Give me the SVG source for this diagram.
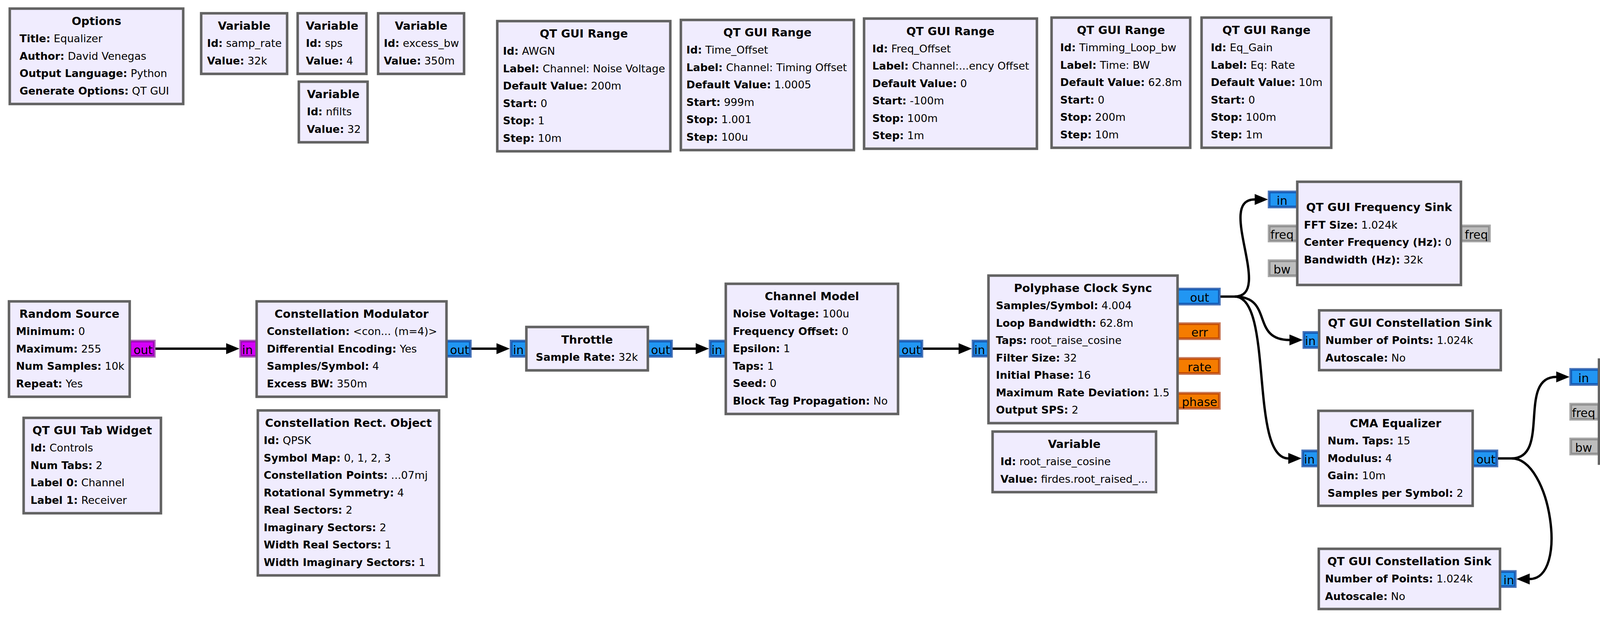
<svg xmlns="http://www.w3.org/2000/svg" width="4609" height="1581" viewBox="0 0 4609 1581">
<style>
text{font-family:"DejaVu Sans","Liberation Sans",sans-serif;fill:#000}
.blk{fill:#F0ECFE;stroke:#636363;stroke-width:6.5}
.t{font-size:29px;font-weight:bold;text-anchor:middle}
.p{font-size:27px}
.k{font-weight:bold}
.pt{font-size:30px;text-anchor:middle}
.pb{fill:#2196F3;stroke:#0D47A1;stroke-opacity:.75;stroke-width:7}
.po{fill:#F57C00;stroke:#AA3200;stroke-opacity:.65;stroke-width:7}
.pm{fill:#D500F9;stroke:#78008C;stroke-opacity:.6;stroke-width:7}
.pg{fill:#BDBDBD;stroke:#6E6E6E;stroke-opacity:.6;stroke-width:7}
.c{fill:none;stroke:#000;stroke-width:6;marker-end:url(#arr)}
</style>
<defs>
<marker id="arr" markerUnits="userSpaceOnUse" markerWidth="36" markerHeight="30" refX="0" refY="14" orient="auto" overflow="visible">
<path d="M0,0 L34,14 L0,28 Z" fill="#000"/>
</marker>
</defs>
<rect width="4609" height="1581" fill="#fff"/>

<g id="options">
<rect class="blk" x="25" y="22" width="444" height="244"/>
<text class="t" x="247" y="64">Options</text>
<text class="p" x="50" y="108"><tspan class="k">Title:</tspan> Equalizer</text>
<text class="p" x="50" y="152.5"><tspan class="k">Author:</tspan> David Venegas</text>
<text class="p" x="50" y="197"><tspan class="k">Output Language:</tspan> Python</text>
<text class="p" x="50" y="241.5"><tspan class="k">Generate Options:</tspan> QT GUI</text>
</g>

<g id="var_samp_rate">
<rect class="blk" x="515" y="34" width="220" height="155"/>
<text class="t" x="625" y="76">Variable</text>
<text class="p" x="530" y="120"><tspan class="k">Id:</tspan> samp_rate</text>
<text class="p" x="530" y="164.5"><tspan class="k">Value:</tspan> 32k</text>
</g>

<g id="var_sps">
<rect class="blk" x="762" y="34" width="176" height="155"/>
<text class="t" x="850" y="76">Variable</text>
<text class="p" x="783" y="120"><tspan class="k">Id:</tspan> sps</text>
<text class="p" x="783" y="164.5"><tspan class="k">Value:</tspan> 4</text>
</g>

<g id="var_excess_bw">
<rect class="blk" x="968" y="34" width="220" height="155"/>
<text class="t" x="1078" y="76">Variable</text>
<text class="p" x="982.5" y="120"><tspan class="k">Id:</tspan> excess_bw</text>
<text class="p" x="982.5" y="164.5"><tspan class="k">Value:</tspan> 350m</text>
</g>

<g id="var_nfilts">
<rect class="blk" x="765" y="209" width="176" height="155"/>
<text class="t" x="853" y="251">Variable</text>
<text class="p" x="785.5" y="295"><tspan class="k">Id:</tspan> nfilts</text>
<text class="p" x="785.5" y="339.5"><tspan class="k">Value:</tspan> 32</text>
</g>

<g id="range_awgn">
<rect class="blk" x="1273" y="54" width="443" height="333"/>
<text class="t" x="1494.5" y="96">QT GUI Range</text>
<text class="p" x="1287.5" y="140"><tspan class="k">Id:</tspan> AWGN</text>
<text class="p" x="1287.5" y="184.5"><tspan class="k">Label:</tspan> Channel: Noise Voltage</text>
<text class="p" x="1287.5" y="229"><tspan class="k">Default Value:</tspan> 200m</text>
<text class="p" x="1287.5" y="273.5"><tspan class="k">Start:</tspan> 0</text>
<text class="p" x="1287.5" y="318"><tspan class="k">Stop:</tspan> 1</text>
<text class="p" x="1287.5" y="362.5"><tspan class="k">Step:</tspan> 10m</text>
</g>

<g id="range_time_offset">
<rect class="blk" x="1743" y="51" width="443" height="333"/>
<text class="t" x="1964.5" y="93">QT GUI Range</text>
<text class="p" x="1757" y="137"><tspan class="k">Id:</tspan> Time_Offset</text>
<text class="p" x="1757" y="181.5"><tspan class="k">Label:</tspan> Channel: Timing Offset</text>
<text class="p" x="1757" y="226"><tspan class="k">Default Value:</tspan> 1.0005</text>
<text class="p" x="1757" y="270.5"><tspan class="k">Start:</tspan> 999m</text>
<text class="p" x="1757" y="315"><tspan class="k">Stop:</tspan> 1.001</text>
<text class="p" x="1757" y="359.5"><tspan class="k">Step:</tspan> 100u</text>
</g>

<g id="range_freq_offset">
<rect class="blk" x="2212" y="47.5" width="442.5" height="333"/>
<text class="t" x="2433" y="89.5">QT GUI Range</text>
<text class="p" x="2233" y="133.5"><tspan class="k">Id:</tspan> Freq_Offset</text>
<text class="p" x="2233" y="178"><tspan class="k">Label:</tspan> Channel:...ency Offset</text>
<text class="p" x="2233" y="222.5"><tspan class="k">Default Value:</tspan> 0</text>
<text class="p" x="2233" y="267"><tspan class="k">Start:</tspan> -100m</text>
<text class="p" x="2233" y="311.5"><tspan class="k">Stop:</tspan> 100m</text>
<text class="p" x="2233" y="356"><tspan class="k">Step:</tspan> 1m</text>
</g>

<g id="range_timming_loop_bw">
<rect class="blk" x="2692" y="45" width="355" height="333"/>
<text class="t" x="2869.5" y="87">QT GUI Range</text>
<text class="p" x="2714" y="131"><tspan class="k">Id:</tspan> Timming_Loop_bw</text>
<text class="p" x="2714" y="175.5"><tspan class="k">Label:</tspan> Time: BW</text>
<text class="p" x="2714" y="220"><tspan class="k">Default Value:</tspan> 62.8m</text>
<text class="p" x="2714" y="264.5"><tspan class="k">Start:</tspan> 0</text>
<text class="p" x="2714" y="309"><tspan class="k">Stop:</tspan> 200m</text>
<text class="p" x="2714" y="353.5"><tspan class="k">Step:</tspan> 10m</text>
</g>

<g id="range_eq_gain">
<rect class="blk" x="3076" y="45" width="332" height="333"/>
<text class="t" x="3242" y="87">QT GUI Range</text>
<text class="p" x="3099.5" y="131"><tspan class="k">Id:</tspan> Eq_Gain</text>
<text class="p" x="3099.5" y="175.5"><tspan class="k">Label:</tspan> Eq: Rate</text>
<text class="p" x="3099.5" y="220"><tspan class="k">Default Value:</tspan> 10m</text>
<text class="p" x="3099.5" y="264.5"><tspan class="k">Start:</tspan> 0</text>
<text class="p" x="3099.5" y="309"><tspan class="k">Stop:</tspan> 100m</text>
<text class="p" x="3099.5" y="353.5"><tspan class="k">Step:</tspan> 1m</text>
</g>

<g id="random_source">
<rect class="pm" x="333" y="872.5" width="62" height="39"/>
<text class="pt" x="366.5" y="905.5">out</text>
<rect class="blk" x="23" y="771" width="309" height="244"/>
<text class="t" x="177.5" y="813">Random Source</text>
<text class="p" x="41" y="857"><tspan class="k">Minimum:</tspan> 0</text>
<text class="p" x="41" y="901.5"><tspan class="k">Maximum:</tspan> 255</text>
<text class="p" x="41" y="946"><tspan class="k">Num Samples:</tspan> 10k</text>
<text class="p" x="41" y="990.5"><tspan class="k">Repeat:</tspan> Yes</text>
</g>

<g id="constellation_modulator">
<rect class="pm" x="616" y="872.5" width="41" height="39"/>
<text class="pt" x="633.5" y="905.5">in</text>
<rect class="pb" x="1143" y="872.5" width="61" height="39"/>
<text class="pt" x="1176.5" y="905.5">out</text>
<rect class="blk" x="657" y="771" width="486" height="244"/>
<text class="t" x="900" y="813">Constellation Modulator</text>
<text class="p" x="683" y="857"><tspan class="k">Constellation:</tspan> &lt;con... (m=4)&gt;</text>
<text class="p" x="683" y="901.5"><tspan class="k">Differential Encoding:</tspan> Yes</text>
<text class="p" x="683" y="946"><tspan class="k">Samples/Symbol:</tspan> 4</text>
<text class="p" x="683" y="990.5"><tspan class="k">Excess BW:</tspan> 350m</text>
</g>

<g id="tab_widget">
<rect class="blk" x="60.5" y="1069" width="351.5" height="244"/>
<text class="t" x="236" y="1111">QT GUI Tab Widget</text>
<text class="p" x="78" y="1155"><tspan class="k">Id:</tspan> Controls</text>
<text class="p" x="78" y="1199.5"><tspan class="k">Num Tabs:</tspan> 2</text>
<text class="p" x="78" y="1244"><tspan class="k">Label 0:</tspan> Channel</text>
<text class="p" x="78" y="1288.5"><tspan class="k">Label 1:</tspan> Receiver</text>
</g>

<g id="constellation_rect">
<rect class="blk" x="660" y="1050" width="464" height="422"/>
<text class="t" x="892" y="1092">Constellation Rect. Object</text>
<text class="p" x="675" y="1136"><tspan class="k">Id:</tspan> QPSK</text>
<text class="p" x="675" y="1180.5"><tspan class="k">Symbol Map:</tspan> 0, 1, 2, 3</text>
<text class="p" x="675" y="1225"><tspan class="k">Constellation Points:</tspan> ...07mj</text>
<text class="p" x="675" y="1269.5"><tspan class="k">Rotational Symmetry:</tspan> 4</text>
<text class="p" x="675" y="1314"><tspan class="k">Real Sectors:</tspan> 2</text>
<text class="p" x="675" y="1358.5"><tspan class="k">Imaginary Sectors:</tspan> 2</text>
<text class="p" x="675" y="1403"><tspan class="k">Width Real Sectors:</tspan> 1</text>
<text class="p" x="675" y="1447.5"><tspan class="k">Width Imaginary Sectors:</tspan> 1</text>
</g>

<g id="throttle">
<rect class="pb" x="1308.5" y="872.5" width="40" height="39"/>
<text class="pt" x="1327" y="905.5">in</text>
<rect class="pb" x="1655" y="872.5" width="64" height="39"/>
<text class="pt" x="1691" y="905.5">out</text>
<rect class="blk" x="1347.5" y="836.5" width="311" height="111"/>
<text class="t" x="1503" y="879">Throttle</text>
<text class="p" x="1371.5" y="923.3"><tspan class="k">Sample Rate:</tspan> 32k</text>
</g>

<g id="channel_model">
<rect class="pb" x="1818" y="872.5" width="40" height="39"/>
<text class="pt" x="1835" y="905.5">in</text>
<rect class="pb" x="2299" y="872.5" width="61" height="39"/>
<text class="pt" x="2332.5" y="905.5">out</text>
<rect class="blk" x="1858" y="726" width="441" height="333"/>
<text class="t" x="2078.5" y="768">Channel Model</text>
<text class="p" x="1876" y="812"><tspan class="k">Noise Voltage:</tspan> 100u</text>
<text class="p" x="1876" y="856.5"><tspan class="k">Frequency Offset:</tspan> 0</text>
<text class="p" x="1876" y="901"><tspan class="k">Epsilon:</tspan> 1</text>
<text class="p" x="1876" y="945.5"><tspan class="k">Taps:</tspan> 1</text>
<text class="p" x="1876" y="990"><tspan class="k">Seed:</tspan> 0</text>
<text class="p" x="1876" y="1034.5"><tspan class="k">Block Tag Propagation:</tspan> No</text>
</g>

<g id="polyphase_clock_sync">
<rect class="pb" x="2491" y="872.5" width="39" height="38.5"/>
<text class="pt" x="2508" y="905.5">in</text>
<rect class="pb" x="3014.5" y="739.5" width="107" height="38.5"/>
<text class="pt" x="3071" y="772.2">out</text>
<rect class="po" x="3014.5" y="828" width="107" height="38.5"/>
<text class="pt" x="3071" y="860.7">err</text>
<rect class="po" x="3014.5" y="917" width="107" height="38.5"/>
<text class="pt" x="3071" y="949.7">rate</text>
<rect class="po" x="3014.5" y="1006" width="107" height="38.5"/>
<text class="pt" x="3071" y="1038.7">phase</text>
<rect class="blk" x="2530.5" y="705" width="484" height="377.5"/>
<text class="t" x="2772.5" y="747">Polyphase Clock Sync</text>
<text class="p" x="2549.5" y="791"><tspan class="k">Samples/Symbol:</tspan> 4.004</text>
<text class="p" x="2549.5" y="835.5"><tspan class="k">Loop Bandwidth:</tspan> 62.8m</text>
<text class="p" x="2549.5" y="880"><tspan class="k">Taps:</tspan> root_raise_cosine</text>
<text class="p" x="2549.5" y="924.5"><tspan class="k">Filter Size:</tspan> 32</text>
<text class="p" x="2549.5" y="969"><tspan class="k">Initial Phase:</tspan> 16</text>
<text class="p" x="2549.5" y="1013.5"><tspan class="k">Maximum Rate Deviation:</tspan> 1.5</text>
<text class="p" x="2549.5" y="1058"><tspan class="k">Output SPS:</tspan> 2</text>
</g>

<g id="var_root_raise_cosine">
<rect class="blk" x="2541" y="1104" width="418.5" height="155"/>
<text class="t" x="2750" y="1146">Variable</text>
<text class="p" x="2561" y="1190"><tspan class="k">Id:</tspan> root_raise_cosine</text>
<text class="p" x="2561" y="1234.5"><tspan class="k">Value:</tspan> firdes.root_raised_...</text>
</g>

<g id="freq_sink_1">
<rect class="pb" x="3249" y="491" width="72" height="38.5"/>
<text class="pt" x="3282" y="523.7">in</text>
<rect class="pg" x="3249" y="578" width="72" height="38.5"/>
<text class="pt" x="3282" y="610.7">freq</text>
<rect class="pg" x="3249" y="667" width="72" height="38.5"/>
<text class="pt" x="3282" y="699.7">bw</text>
<rect class="pg" x="3740" y="578" width="73" height="38.5"/>
<text class="pt" x="3779.5" y="610.7">freq</text>
<rect class="blk" x="3321" y="465" width="419" height="264"/>
<text class="t" x="3530.5" y="540">QT GUI Frequency Sink</text>
<text class="p" x="3338" y="584.5"><tspan class="k">FFT Size:</tspan> 1.024k</text>
<text class="p" x="3338" y="629"><tspan class="k">Center Frequency (Hz):</tspan> 0</text>
<text class="p" x="3338" y="673.5"><tspan class="k">Bandwidth (Hz):</tspan> 32k</text>
</g>

<g id="const_sink_1">
<rect class="pb" x="3338" y="850.5" width="39" height="38.5"/>
<text class="pt" x="3354.5" y="883.2">in</text>
<rect class="blk" x="3377" y="794" width="465" height="153"/>
<text class="t" x="3609.5" y="836">QT GUI Constellation Sink</text>
<text class="p" x="3393" y="880"><tspan class="k">Number of Points:</tspan> 1.024k</text>
<text class="p" x="3393" y="924.5"><tspan class="k">Autoscale:</tspan> No</text>
</g>

<g id="cma_equalizer">
<rect class="pb" x="3335" y="1153.5" width="40" height="38.5"/>
<text class="pt" x="3352" y="1186.2">in</text>
<rect class="pb" x="3770" y="1153.5" width="62" height="38.5"/>
<text class="pt" x="3804" y="1186.2">out</text>
<rect class="blk" x="3375" y="1051" width="395" height="243"/>
<text class="t" x="3572.5" y="1093">CMA Equalizer</text>
<text class="p" x="3398.5" y="1137"><tspan class="k">Num. Taps:</tspan> 15</text>
<text class="p" x="3398.5" y="1181.5"><tspan class="k">Modulus:</tspan> 4</text>
<text class="p" x="3398.5" y="1226"><tspan class="k">Gain:</tspan> 10m</text>
<text class="p" x="3398.5" y="1270.5"><tspan class="k">Samples per Symbol:</tspan> 2</text>
</g>

<g id="freq_sink_2">
<rect class="pb" x="4021" y="945" width="72" height="38.5"/>
<text class="pt" x="4054" y="977.7">in</text>
<rect class="pg" x="4021" y="1034" width="72" height="38.5"/>
<text class="pt" x="4054" y="1066.7">freq</text>
<rect class="pg" x="4021" y="1123" width="72" height="38.5"/>
<text class="pt" x="4054" y="1155.7">bw</text>
<rect class="pg" x="4512.5" y="1034" width="72.5" height="38.5"/>
<text class="pt" x="4552" y="1066.7">freq</text>
<rect class="blk" x="4093.5" y="920" width="419" height="266"/>
<text class="t" x="4303" y="995">QT GUI Frequency Sink</text>
<text class="p" x="4110" y="1039.5"><tspan class="k">FFT Size:</tspan> 1.024k</text>
<text class="p" x="4110" y="1084"><tspan class="k">Center Frequency (Hz):</tspan> 0</text>
<text class="p" x="4110" y="1128.5"><tspan class="k">Bandwidth (Hz):</tspan> 32k</text>
</g>

<g id="const_sink_2">
<rect class="pb" x="3837" y="1462" width="42" height="38.5"/>
<text class="pt" x="3862.5" y="1494.7">in</text>
<rect class="blk" x="3376" y="1404" width="464" height="154"/>
<text class="t" x="3608" y="1446">QT GUI Constellation Sink</text>
<text class="p" x="3392" y="1490"><tspan class="k">Number of Points:</tspan> 1.024k</text>
<text class="p" x="3392" y="1534.5"><tspan class="k">Autoscale:</tspan> No</text>
</g>

<g id="connectors">
<path class="c" d="M398,892 H579"/>
<path class="c" d="M1207,892 H1271"/>
<path class="c" d="M1722,892 H1781"/>
<path class="c" d="M2363,892 H2454"/>
<path class="c" d="M3124.5,758.7 H3161 C3261,758.7 3112,510.2 3212,510.2"/>
<path class="c" d="M3161,758.7 C3261,758.7 3201,869.7 3301,869.7"/>
<path class="c" d="M3161,758.7 C3261,758.7 3198,1172.7 3298,1172.7"/>
<path class="c" d="M3835,1172.7 H3870 C3970,1172.7 3884,964.2 3984,964.2"/>
<path class="c" d="M3870,1172.7 C3970,1172.7 4016,1481.2 3916,1481.2"/>
</g>
</svg>
